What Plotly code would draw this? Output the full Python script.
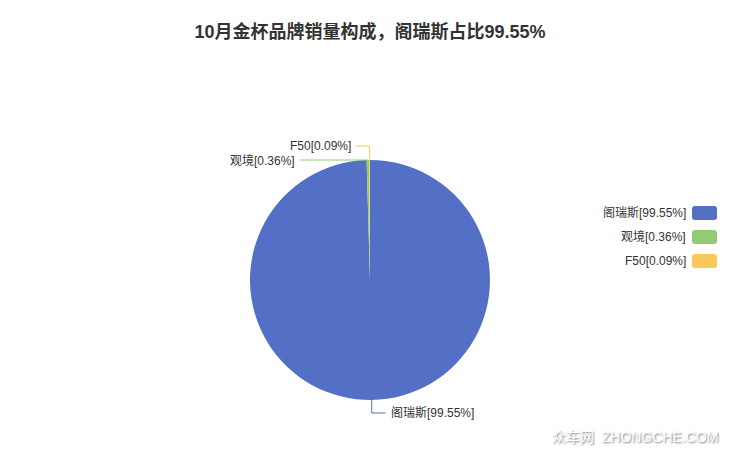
import math
import plotly.graph_objects as go

brands = ["阁瑞斯", "观境", "F50"]
shares = [99.55, 0.36, 0.09]
colors = ["#5470c6", "#91cc75", "#fac858"]
title_text = "10月金杯品牌销量构成，阁瑞斯占比99.55%"

PAGE_W, PAGE_H = 740, 455
OFF = 8  # default body margin of the page
W, H = PAGE_W - OFF, PAGE_H - OFF
CX, CY, R = 370, 280, 120

def px(x):
    return (x - OFF) / W

def py(y):
    return 1 - (y - OFF) / H

fig = go.Figure()
fig.add_trace(go.Pie(
    labels=brands, values=shares, sort=False, direction="clockwise", rotation=0,
    marker=dict(colors=colors, line=dict(width=0)),
    textinfo="none", hoverinfo="label+percent", showlegend=False,
    domain=dict(x=[px(CX - R), px(CX + R)], y=[py(CY + R), py(CY - R)]),
))

font_cjk = "Liberation Sans, Noto Sans CJK SC, sans-serif"
shapes = []
annotations = []

total = sum(shares)
cum = 0
for i, (b, v) in enumerate(zip(brands, shares)):
    mid = (cum + v / 2) / total * 2 * math.pi
    cum += v
    sx = CX + R * math.sin(mid)
    sy = CY - R * math.cos(mid)
    if i == 0:
        ex, ey = sx, sy + 13
        hx = ex + 14
        anchor, tx = "left", hx + 3
    elif i == 1:
        ex, ey = sx, sy
        hx = ex - 68
        anchor, tx = "right", hx - 3
    else:
        ex, ey = sx, sy - 14
        hx = ex - 14
        anchor, tx = "right", hx - 3
    path = f"M {px(sx)} {py(sy)} L {px(ex)} {py(ey)} L {px(hx)} {py(ey)}"
    shapes.append(dict(type="path", xref="paper", yref="paper", path=path,
                       line=dict(color=colors[i], width=1)))
    annotations.append(dict(x=px(tx), y=py(ey), xref="paper", yref="paper",
                            text=f"{b}[{v:.2f}%]", showarrow=False,
                            xanchor=anchor, yanchor="middle",
                            font=dict(size=12, color="#333", family=font_cjk)))

# legend (text left of rounded swatch)
LX_TEXT, LX0, LX1 = 688, 692, 717
for i, (b, v) in enumerate(zip(brands, shares)):
    yc = 213 + 24 * i
    y0, y1 = yc - 7, yc + 7
    r = 3
    x0, x1 = LX0, LX1
    p = (f"M {px(x0 + r)} {py(y0)} L {px(x1 - r)} {py(y0)} "
         f"Q {px(x1)} {py(y0)} {px(x1)} {py(y0 + r)} L {px(x1)} {py(y1 - r)} "
         f"Q {px(x1)} {py(y1)} {px(x1 - r)} {py(y1)} L {px(x0 + r)} {py(y1)} "
         f"Q {px(x0)} {py(y1)} {px(x0)} {py(y1 - r)} L {px(x0)} {py(y0 + r)} "
         f"Q {px(x0)} {py(y0)} {px(x0 + r)} {py(y0)} Z")
    shapes.append(dict(type="path", xref="paper", yref="paper", path=p,
                       fillcolor=colors[i], line=dict(width=0)))
    annotations.append(dict(x=px(LX_TEXT), y=py(yc), xref="paper", yref="paper",
                            text=f"{b}[{v:.2f}%]", showarrow=False,
                            xanchor="right", yanchor="middle",
                            font=dict(size=12, color="#333", family=font_cjk)))

# watermark
annotations.append(dict(x=px(720), y=py(437), xref="paper", yref="paper",
                        text="众车网  ZHONGCHE.COM", showarrow=False,
                        xanchor="right", yanchor="middle",
                        font=dict(size=14, color="#ffffff", family=font_cjk,
                                  shadow="1px 1px 2px #777")))

fig.update_layout(
    width=W, height=H,
    margin=dict(l=0, r=0, t=0, b=0),
    paper_bgcolor="white", plot_bgcolor="white",
    title=dict(text=f"<b>{title_text}</b>", x=px(370), xanchor="center",
               y=py(32), yanchor="middle",
               font=dict(size=18, color="#333", family=font_cjk)),
    shapes=shapes, annotations=annotations,
    showlegend=False,
)

fig.write_html("out.html")
